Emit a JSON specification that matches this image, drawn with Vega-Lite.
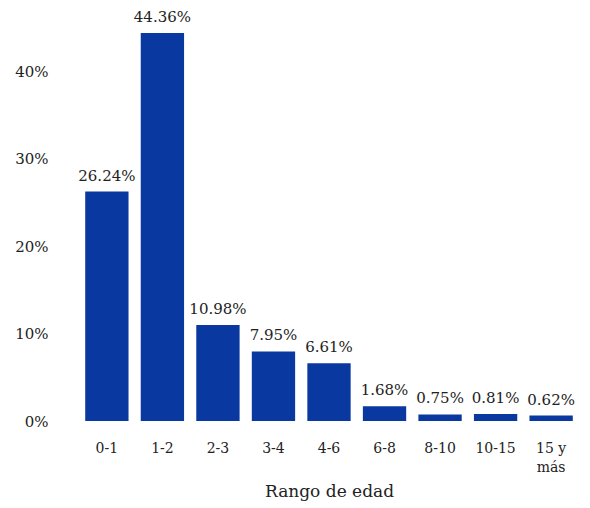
{
  "$schema": "https://vega.github.io/schema/vega-lite/v6.json",
  "width": 512,
  "height": 411,
  "autosize": "none",
  "padding": {"left": 73, "top": 10, "right": 5, "bottom": 87},
  "background": "white",
  "config": {"view": {"stroke": null}, "font": "DejaVu Serif"},
  "data": {
    "values": [
      {"rango": "0-1", "pct": 0.2624},
      {"rango": "1-2", "pct": 0.4436},
      {"rango": "2-3", "pct": 0.1098},
      {"rango": "3-4", "pct": 0.0795},
      {"rango": "4-6", "pct": 0.0661},
      {"rango": "6-8", "pct": 0.0168},
      {"rango": "8-10", "pct": 0.0075},
      {"rango": "10-15", "pct": 0.0081},
      {"rango": "15 y más", "pct": 0.0062}
    ]
  },
  "encoding": {
    "x": {
      "field": "rango",
      "type": "nominal",
      "sort": null,
      "scale": {"paddingInner": 0.22, "paddingOuter": 0.22},
      "axis": {
        "title": "Rango de edad",
        "titleFont": "DejaVu Serif",
        "titleFontSize": 17,
        "titleFontWeight": "normal",
        "titleColor": "#222",
        "titlePadding": 9,
        "labelAngle": 0,
        "labelFont": "DejaVu Serif",
        "labelFontSize": 14,
        "labelColor": "#222",
        "labelPadding": 20,
        "labelLineHeight": 19,
        "labelExpr": "datum.value == '15 y más' ? ['15 y', 'más'] : datum.value",
        "domain": false,
        "ticks": false,
        "grid": false
      }
    },
    "y": {
      "field": "pct",
      "type": "quantitative",
      "scale": {"domain": [0, 0.47], "nice": false},
      "axis": {
        "title": null,
        "format": ".0%",
        "values": [0, 0.1, 0.2, 0.3, 0.4],
        "labelFont": "DejaVu Serif",
        "labelFontSize": 15,
        "labelColor": "#222",
        "labelPadding": 25,
        "domain": false,
        "ticks": false,
        "grid": false
      }
    }
  },
  "layer": [
    {"mark": {"type": "bar", "color": "#0838a0"}},
    {
      "mark": {"type": "text", "baseline": "alphabetic", "dy": -11, "fontSize": 15, "font": "DejaVu Serif", "color": "#222"},
      "encoding": {"text": {"field": "pct", "type": "quantitative", "format": ".2%"}}
    }
  ]
}
